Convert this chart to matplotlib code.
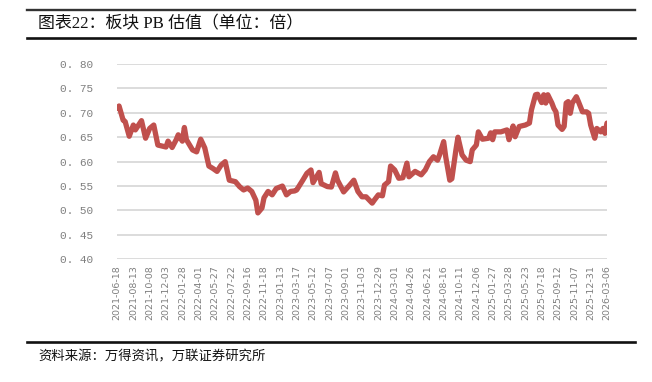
import numpy as np
import matplotlib as mpl
mpl.use("Agg")
from matplotlib import pyplot as plt
from matplotlib.lines import Line2D

# week index (0 = 2021-06-18) and sector PB
week = [0, 1, 3, 4, 6, 8, 9, 12, 14, 16,
        18, 20, 22, 24, 25, 27, 29, 30, 32, 33,
        34, 37, 39, 41, 43, 45, 47, 49, 51, 53,
        55, 58, 60, 62, 64, 66, 68, 69, 71, 72,
        74, 76, 78, 81, 83, 85, 87, 88, 91, 93,
        95, 96, 99, 100, 103, 105, 107, 108, 111, 114,
        116, 118, 120, 122, 125, 126, 128, 130, 131, 133,
        134, 136, 138, 140, 142, 143, 146, 149, 151, 153,
        155, 157, 158, 160, 161, 163, 164, 166, 167, 169,
        171, 173, 174, 176, 177, 179, 182, 183, 184, 185,
        188, 191, 192, 194, 195, 197, 200, 202, 203, 205,
        206, 208, 209, 210, 211, 213, 214, 215, 216, 218,
        219, 220, 221, 222, 223, 225, 226, 228, 230, 231,
        232, 234, 235, 237, 238, 239, 240]
pb = [0.709, 0.714, 0.685, 0.682, 0.652, 0.675, 0.665, 0.684, 0.648, 0.668,
      0.675, 0.634, 0.632, 0.630, 0.642, 0.629, 0.645, 0.655, 0.642, 0.670,
      0.645, 0.624, 0.620, 0.646, 0.628, 0.591, 0.586, 0.580, 0.593, 0.600,
      0.562, 0.559, 0.549, 0.542, 0.546, 0.539, 0.521, 0.495, 0.505, 0.526,
      0.539, 0.532, 0.545, 0.550, 0.532, 0.539, 0.540, 0.542, 0.562, 0.576,
      0.583, 0.557, 0.578, 0.555, 0.549, 0.548, 0.577, 0.562, 0.538, 0.552,
      0.562, 0.539, 0.528, 0.528, 0.515, 0.521, 0.532, 0.530, 0.552, 0.559,
      0.591, 0.583, 0.566, 0.567, 0.597, 0.569, 0.580, 0.573, 0.583, 0.600,
      0.610, 0.603, 0.614, 0.641, 0.610, 0.562, 0.565, 0.624, 0.650, 0.614,
      0.603, 0.600, 0.624, 0.634, 0.661, 0.646, 0.648, 0.659, 0.645, 0.661,
      0.661, 0.665, 0.645, 0.673, 0.651, 0.672, 0.675, 0.679, 0.706, 0.737,
      0.738, 0.721, 0.737, 0.720, 0.737, 0.720, 0.709, 0.702, 0.675, 0.666,
      0.672, 0.720, 0.723, 0.699, 0.720, 0.733, 0.723, 0.702, 0.702, 0.699,
      0.675, 0.648, 0.668, 0.661, 0.668, 0.658, 0.679]

date_labels = ['2021-06-18', '2021-08-13', '2021-10-08', '2021-12-03',
               '2022-01-28', '2022-04-01', '2022-05-27', '2022-07-22',
               '2022-09-16', '2022-11-18', '2023-01-13', '2023-03-17',
               '2023-05-12', '2023-07-07', '2023-09-01', '2023-11-03',
               '2023-12-29', '2024-03-01', '2024-04-26', '2024-06-21',
               '2024-08-16', '2024-10-11', '2024-12-06', '2025-01-27',
               '2025-03-28', '2025-05-23', '2025-07-18', '2025-09-12',
               '2025-11-07', '2025-12-31', '2026-03-06']
yticks = [0.40, 0.45, 0.50, 0.55, 0.60, 0.65, 0.70, 0.75, 0.80]

title = '图表22：板块 PB 估值（单位：倍）'
source = '资料来源：万得资讯，万联证券研究所'

cjk = ['Liberation Serif', 'Noto Sans CJK SC', 'DejaVu Sans']

fig = plt.figure(figsize=(6.52, 3.82), dpi=100)
ax = fig.add_axes([117 / 652, 1 - 259.3 / 382, 490 / 652, 195.3 / 382])

ax.plot(week, pb, color='#C0504D', lw=3.8, solid_joinstyle='round',
        solid_capstyle='round', zorder=3)

ax.set_xlim(0, 240)
ax.set_ylim(0.40, 0.80)
ax.set_yticks(yticks)
ax.set_yticklabels([f'{v:.2f}'.replace('.', '. ') for v in yticks],
                   family='Liberation Mono', fontsize=8, color='#7f7f7f')
ax.set_xticks(np.arange(0, 241, 8))
ax.set_xticklabels(date_labels, rotation=90, fontsize=6.8, color='#7f7f7f',
                   va='top', ha='center')
ax.tick_params(axis='y', length=0, pad=17)
ax.tick_params(axis='x', length=0, pad=4)
ax.grid(axis='y', color='#d9d9d9', lw=1.3)
ax.set_axisbelow(True)
for s in ax.spines.values():
    s.set_visible(False)

# header / footer rules
for y, c, w in [(1 - 10 / 382, '#333333', 1.7), (1 - 38 / 382, '#111111', 1.9),
                (1 - 342 / 382, '#111111', 1.9)]:
    fig.add_artist(Line2D([27 / 652, 635 / 652], [y, y], color=c, lw=w,
                          transform=fig.transFigure))

fig.text(38 / 652, 1 - 24 / 382, title, family=cjk, fontsize=12.2,
         va='center', ha='left', color='#111111')
fig.text(38 / 652, 1 - 357 / 382, source, family=cjk, fontsize=9.6,
         va='center', ha='left', color='#111111')

fig.savefig('out.png', dpi=100)
plt.close(fig)
